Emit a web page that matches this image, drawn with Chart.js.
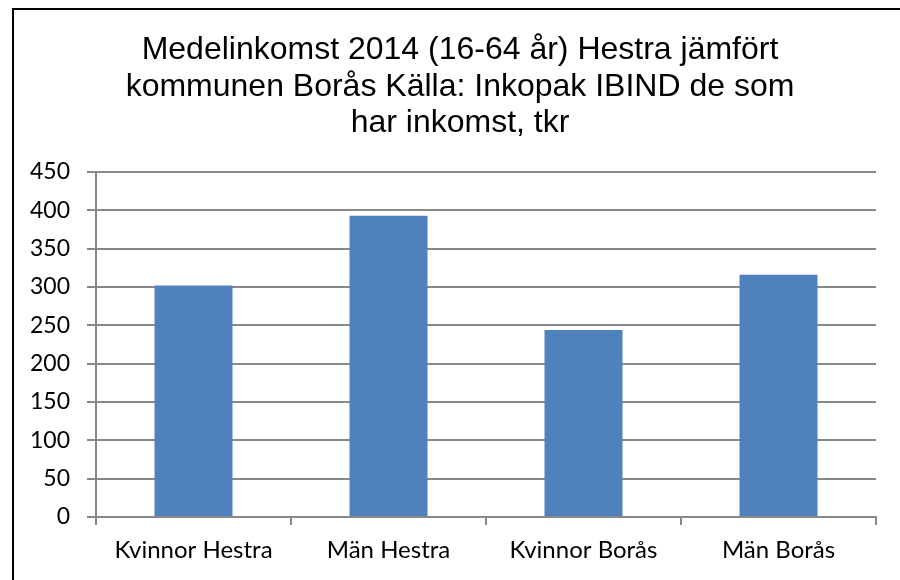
<!DOCTYPE html>
<html>
<head>
<meta charset="utf-8">
<script src="https://cdn.jsdelivr.net/npm/chart.js@4/dist/chart.umd.min.js"></script>
<style>
  html, body { margin: 0; padding: 0; background: #fff; overflow: hidden; }
  #frame {
    position: absolute; left: 12px; top: 8px; width: 950px; height: 640px;
    border: 2px solid #000; box-sizing: border-box;
  }
  #wrap { position: absolute; left: 0; top: 0; width: 900px; height: 580px; }
</style>
</head>
<body>
<div id="frame"></div>
<div id="wrap"><canvas id="barChart"></canvas></div>
<script>
// Data
const categories = ['Kvinnor Hestra', 'Män Hestra', 'Kvinnor Borås', 'Män Borås'];
const incomeValues = [302, 393, 244, 316];
const yMin = 0;
const yMax = 450;
const yStep = 50;
const titleLines = [
  'Medelinkomst 2014 (16-64 år) Hestra jämfört',
  'kommunen Borås Källa: Inkopak IBIND de som',
  'har inkomst, tkr'
];

const gridGray = '#898989';

// titel ritas själv, så den kan centreras som i originalet
const titlePlugin = {
  id: 'centeredTitle',
  afterDraw: function (chart) {
    const c = chart.ctx;
    c.save();
    c.fillStyle = '#000';
    c.font = '32px "Liberation Sans", Arial';
    c.textAlign = 'center';
    c.textBaseline = 'alphabetic';
    titleLines.forEach(function (line, i) {
      c.fillText(line, 460, 59 + i * 36.5);
    });
    c.restore();
  }
};

document.addEventListener("DOMContentLoaded", function () {
  const ctx = document.getElementById('barChart').getContext('2d');
  new Chart(ctx, {
    type: 'bar',
    data: {
      labels: categories,
      datasets: [{
        label: 'tkr',
        data: incomeValues,
        backgroundColor: '#4f81bd',
        borderWidth: 0,
        categoryPercentage: 1,
        barPercentage: 0.4
      }]
    },
    options: {
      responsive: true,
      maintainAspectRatio: false,
      animation: false,
      layout: { padding: { left: 20, right: 24, top: 172, bottom: 0 } },
      plugins: {
        legend: { display: false },
        tooltip: { enabled: false },
        title: { display: false }
      },
      scales: {
        x: {
          offset: true,
          grid: {
            offset: true,
            drawOnChartArea: false,
            drawTicks: true,
            tickLength: 8,
            color: gridGray,
            lineWidth: 2
          },
          border: { color: gridGray, width: 2 },
          ticks: {
            color: '#000',
            padding: 11,
            font: { family: 'Lato', size: 24 }
          },
          afterFit: function (scale) { scale.height = 63; }
        },
        y: {
          min: yMin,
          max: yMax,
          grid: {
            color: gridGray,
            lineWidth: 2,
            tickLength: 9
          },
          border: { color: gridGray, width: 2 },
          ticks: {
            stepSize: yStep,
            color: '#000',
            padding: 17,
            font: { family: 'Lato', size: 23 }
          },
          afterFit: function (scale) { scale.width = 76; }
        }
      }
    },
    plugins: [titlePlugin]
  });
});
</script>
</body>
</html>
